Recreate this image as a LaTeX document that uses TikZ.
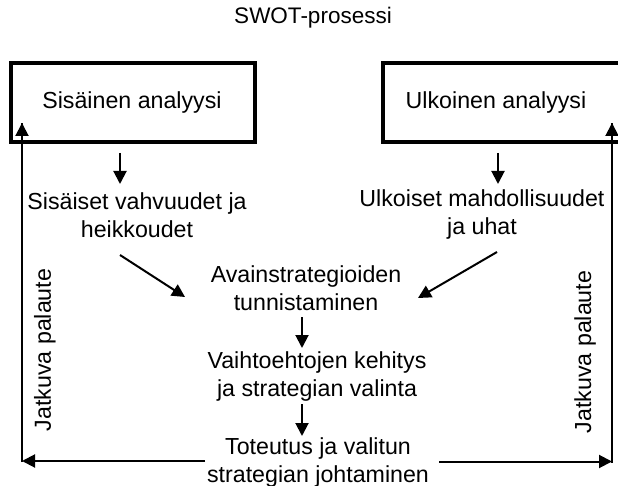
\documentclass[tikz,border=0pt]{standalone}
\usepackage{fontspec}
\setmainfont{Liberation Sans}
\usetikzlibrary{arrows.meta}
\begin{document}
\begin{tikzpicture}[x=1pt,y=-1pt,
  txt/.style={align=center,font=\fontsize{23.2}{28}\selectfont,inner sep=0pt},
  ttl/.style={font=\fontsize{22.5}{26}\selectfont,inner sep=0pt},
  boxst/.style={draw,line width=4pt,minimum width=#1,minimum height=79pt,inner sep=0pt},
  arr/.style={line width=2pt,-{Triangle[length=13pt,width=13pt]}},
  line/.style={line width=2pt}]
\useasboundingbox (0,0) rectangle (618,486);
\clip (0,0) rectangle (618,486);
\fill[white] (0,0) rectangle (618,486);
\node[ttl] (title) at (313,18) {SWOT-prosessi};
\node[boxst=244pt] (lbox) at (133,102.5) {};
\node[boxst=250pt] (rbox) at (508,102.5) {};
\node[txt] (ltxt) at (132,102.5) {Sisäinen analyysi};
\node[txt] (rtxt) at (496,102.5) {Ulkoinen analyysi};
\node[txt] (sv) at (137,215) {Sisäiset vahvuudet ja\\heikkoudet};
\node[txt] (um) at (482,215) {Ulkoiset mahdollisuudet\\ja uhat};
\node[txt] (av) at (306,288) {Avainstrategioiden\\tunnistaminen};
\node[txt] (va) at (317,376) {Vaihtoehtojen kehitys\\ja strategian valinta};
\node[txt] (to) at (318,462) {Toteutus ja valitun\\strategian johtaminen};
\node[txt,rotate=90] (jl) at (45,350) {Jatkuva palaute};
\node[txt,rotate=90] (jr) at (585,352) {Jatkuva palaute};
% down arrows
\coordinate (a1s) at (120,153); \coordinate (a1e) at (120,184);
\coordinate (a2s) at (498,153); \coordinate (a2e) at (498,184);
\draw[arr] (a1s) -- (a1e);
\draw[arr] (a2s) -- (a2e);
\coordinate (d1s) at (120,255); \coordinate (d1e) at (185,297);
\coordinate (d2s) at (497,252); \coordinate (d2e) at (418,298);
\draw[arr] (d1s) -- (d1e);
\draw[arr] (d2s) -- (d2e);
\coordinate (a3s) at (302,317); \coordinate (a3e) at (302,348);
\coordinate (a4s) at (302,404); \coordinate (a4e) at (302,436);
\draw[arr] (a3s) -- (a3e);
\draw[arr] (a4s) -- (a4e);
% feedback loops
\coordinate (lc) at (22,461); \coordinate (lt) at (22,123);
\coordinate (ls) at (205,461);
\coordinate (rc) at (612,461.5); \coordinate (rt) at (612,123);
\coordinate (rs) at (439,461.5);
\draw[line] ([yshift=-1pt]lc) -- (lt);
\draw[arr] (lc |- lt) ++(0,1) -- (lt);
\draw[arr] (ls) -- (lc);
\draw[line] ([yshift=-1pt]rc) -- (rt);
\draw[arr] (rc |- rt) ++(0,1) -- (rt);
\draw[arr] (rs) -- (rc);
\end{tikzpicture}
\end{document}
